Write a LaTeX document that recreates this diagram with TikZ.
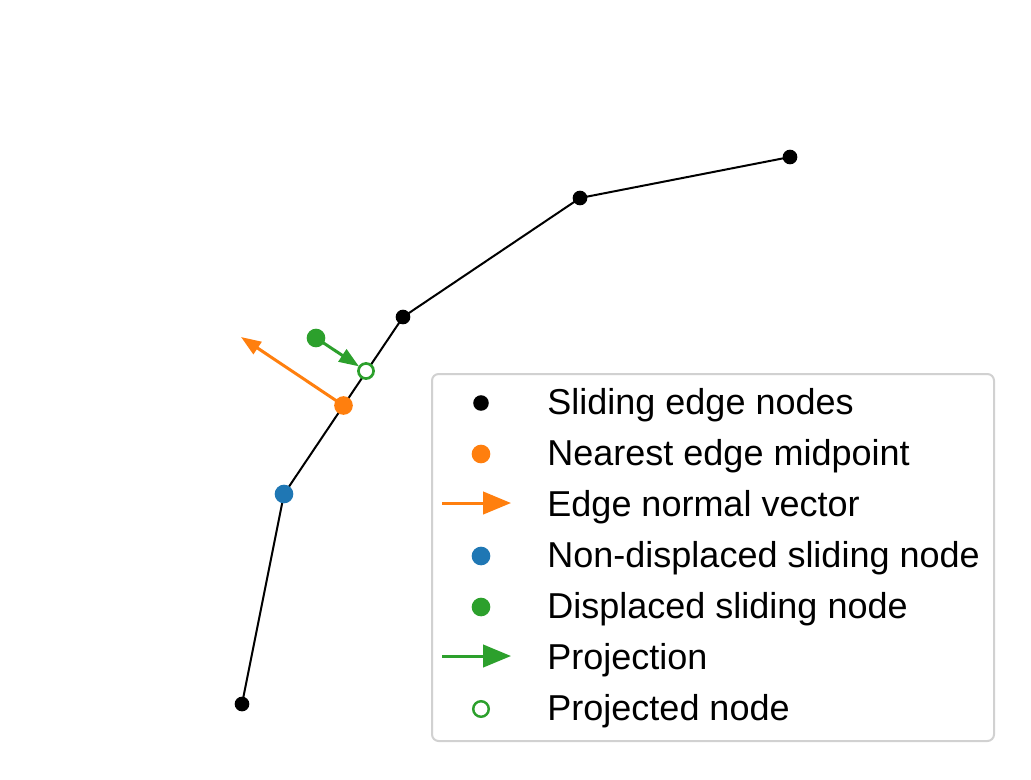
\documentclass[tikz,border=0pt]{standalone}
\usepackage{fontspec}
\setmainfont{Liberation Sans}
\usetikzlibrary{arrows.meta,positioning,calc}

\definecolor{mplblue}{HTML}{1F77B4}
\definecolor{mplorange}{HTML}{FF7F0E}
\definecolor{mplgreen}{HTML}{2CA02C}

\begin{document}
\begin{tikzpicture}[
            x=0.45pt, y=-0.45pt,
            edgenode/.style={circle, fill=black, inner sep=0pt, minimum size=6.6pt},
            dotnode/.style={circle, fill=#1, inner sep=0pt, minimum size=8.4pt},
            hollownode/.style={circle, draw=mplgreen, line width=1.2pt, fill=white, inner sep=0pt, minimum size=6.8pt},
            edge/.style={line width=0.9pt},
            vec/.style={-{Triangle[length=9pt, width=6.5pt]}, line width=1.35pt, draw=#1, shorten >=0pt},
            legvec/.style={-{Triangle[length=12.5pt, width=10pt]}, line width=1.35pt, draw=#1},
            legtext/.style={anchor=base west, font=\fontsize{16.2pt}{19pt}\selectfont, inner sep=0pt}
        ]
            \useasboundingbox (0,0) rectangle (1031,779);

            % Sliding edge
            \coordinate (p1) at (242,704);
            \coordinate (p2) at (284,494);
            \coordinate (p3) at (403,317);
            \coordinate (p4) at (580,198);
            \coordinate (p5) at (790,157);
            \draw[edge] (p1) -- (p2) -- (p3) -- (p4) -- (p5);
            \foreach \p in {p1,p2,p3,p4,p5}
                \node[edgenode] at (\p) {};

            % Nodes
            \node[dotnode=mplblue] (slide) at (p2) {};
            \node[dotnode=mplorange] (mid) at ($(p2)!0.5!(p3)$) {};
            \coordinate (normtip) at (241,337);
            \draw[vec=mplorange] (mid.center) -- (normtip);
            \node[dotnode=mplgreen] (disp) at (316,338) {};
            \coordinate (projc) at (366,371);
            \draw[vec=mplgreen] (disp.center) -- ($(disp.center)!0.86!(projc)$);
            \node[hollownode] (proj) at (projc) {};

            % Legend
            \draw[draw=black!18, line width=0.9pt, fill=white, fill opacity=0.8, rounded corners=3pt]
                (432,374) rectangle (994,741);
            \node[edgenode, minimum size=7pt] (legA) at (481,403) {};
            \node[legtext] at (547,414) {Sliding edge nodes};
            \node[dotnode=mplorange] (legB) at (481,454) {};
            \node[legtext] at (547,465) {Nearest edge midpoint};
            \coordinate (legCa) at (442,503);
            \coordinate (legCb) at (511,503);
            \draw[legvec=mplorange] (legCa) -- (legCb);
            \node[legtext] at (547,516) {Edge normal vector};
            \node[dotnode=mplblue] (legD) at (481,556) {};
            \node[legtext] at (547,567) {Non-displaced sliding node};
            \node[dotnode=mplgreen] (legE) at (481,607) {};
            \node[legtext] at (547,618) {Displaced sliding node};
            \coordinate (legFa) at (442,656);
            \coordinate (legFb) at (511,656);
            \draw[legvec=mplgreen] (legFa) -- (legFb);
            \node[legtext] at (547,669) {Projection};
            \node[hollownode, minimum size=7pt, line width=1.1pt] (legG) at (481,709) {};
            \node[legtext] at (547,720) {Projected node};
        \end{tikzpicture}
\end{document}
